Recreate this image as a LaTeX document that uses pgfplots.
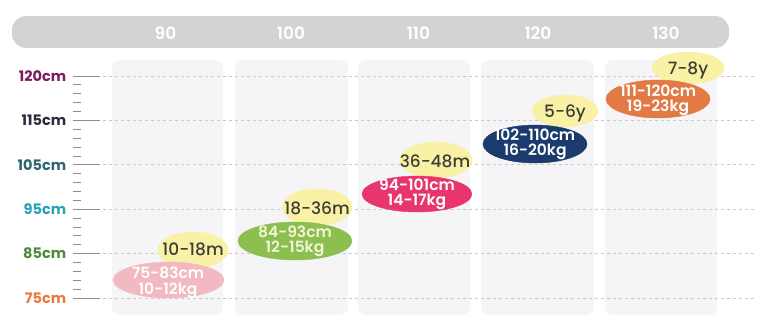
\documentclass[border=0pt]{standalone}
\usepackage{pgfplots}
\pgfplotsset{compat=1.18}
\usepackage{fontspec}
\setmainfont{Poppins}
\newfontfamily\pmed{Poppins Medium}
\newfontfamily\psemi{Poppins SemiBold}
\definecolor{barg}{HTML}{D3D3D6}
\definecolor{colg}{HTML}{F5F5F7}
\definecolor{gridg}{HTML}{C9C9CC}
\definecolor{tickg}{HTML}{8E8E92}
\definecolor{cyel}{HTML}{F8F1A6}
\definecolor{cpink}{HTML}{F2B9C1}
\definecolor{cgreen}{HTML}{8DBE50}
\definecolor{cmag}{HTML}{E8356E}
\definecolor{cnavy}{HTML}{1B3B6F}
\definecolor{corange}{HTML}{E27A45}
\definecolor{ytxt}{HTML}{3E3D33}
\definecolor{gtxt}{HTML}{F1F6D6}
\definecolor{l120}{HTML}{7B1D5C}
\definecolor{l115}{HTML}{2B2B3B}
\definecolor{l105}{HTML}{2F6470}
\definecolor{l95}{HTML}{27A3B5}
\definecolor{l85}{HTML}{4E8A3E}
\definecolor{l75}{HTML}{E97A3A}
\begin{document}
\begin{tikzpicture}
\begin{axis}[scale only axis, width=763pt, height=332pt,
  xmin=76.4777, xmax=138.2591, ymin=-0.7658, ymax=6.7117,
  axis lines=none, clip=false]
% top bar
\addplot[fill=barg, draw=none, no markers, rounded corners=14pt] coordinates {(77.45,5.631) (77.45,6.351) (135.51,6.351) (135.51,5.631)} -- cycle;
% column backgrounds
\addplot[fill=colg, draw=none, no markers, rounded corners=8pt] coordinates {(85.55,-0.383) (85.55,5.36) (94.53,5.36) (94.53,-0.383)} -- cycle;
\addplot[fill=colg, draw=none, no markers, rounded corners=8pt] coordinates {(95.51,-0.383) (95.51,5.36) (104.66,5.36) (104.66,-0.383)} -- cycle;
\addplot[fill=colg, draw=none, no markers, rounded corners=8pt] coordinates {(105.47,-0.383) (105.47,5.36) (114.53,5.36) (114.53,-0.383)} -- cycle;
\addplot[fill=colg, draw=none, no markers, rounded corners=8pt] coordinates {(115.43,-0.383) (115.43,5.36) (124.57,5.36) (124.57,-0.383)} -- cycle;
\addplot[fill=colg, draw=none, no markers, rounded corners=8pt] coordinates {(125.47,-0.383) (125.47,5.36) (134.53,5.36) (134.53,-0.383)} -- cycle;
% grid lines and ticks
\foreach \k in {0,...,5}{
  \edef\tmp{\noexpand\draw[gridg, line width=0.9pt, dash pattern=on 3pt off 3pt] (axis cs:84.82,\k) -- (axis cs:137.77,\k);
  \noexpand\draw[tickg, line width=0.9pt] (axis cs:82.39,\k) -- (axis cs:84.57,\k);}\tmp
}
\foreach \k in {0,...,4}{
  \foreach \j in {0.2,0.4,0.6,0.8}{
    \edef\tmp{\noexpand\draw[tickg, line width=0.8pt] (axis cs:82.39,\k+\j) -- (axis cs:83.04,\k+\j);}\tmp
  }
}
% top numbers
\node[text=white, font=\psemi\fontsize{17}{18}\selectfont] at (axis cs:89.88,5.968) {90};
\node[text=white, font=\psemi\fontsize{17}{18}\selectfont] at (axis cs:100.04,5.968) {100};
\node[text=white, font=\psemi\fontsize{17}{18}\selectfont] at (axis cs:110.36,5.968) {110};
\node[text=white, font=\psemi\fontsize{17}{18}\selectfont] at (axis cs:120.04,5.968) {120};
\node[text=white, font=\psemi\fontsize{17}{18}\selectfont] at (axis cs:130.40,5.968) {130};
% y labels
\node[anchor=east, text=l120, font=\bfseries\fontsize{14.5}{16}\selectfont, inner sep=0pt] at (axis cs:81.85,5) {120cm};
\node[anchor=east, text=l115, font=\bfseries\fontsize{14.5}{16}\selectfont, inner sep=0pt] at (axis cs:81.85,4) {115cm};
\node[anchor=east, text=l105, font=\bfseries\fontsize{14.5}{16}\selectfont, inner sep=0pt] at (axis cs:81.85,3) {105cm};
\node[anchor=east, text=l95, font=\bfseries\fontsize{14.5}{16}\selectfont, inner sep=0pt] at (axis cs:81.85,2) {95cm};
\node[anchor=east, text=l85, font=\bfseries\fontsize{14.5}{16}\selectfont, inner sep=0pt] at (axis cs:81.85,1) {85cm};
\node[anchor=east, text=l75, font=\bfseries\fontsize{14.5}{16}\selectfont, inner sep=0pt] at (axis cs:81.85,0) {75cm};
% yellow age tags
\addplot[only marks, mark=*, color=cyel, mark size=18pt, mark options={xscale=1.95}] coordinates {(92.11,1.081)};
\addplot[only marks, mark=*, color=cyel, mark size=18pt, mark options={xscale=1.95}] coordinates {(102.15,2.05)};
\addplot[only marks, mark=*, color=cyel, mark size=18pt, mark options={xscale=2.0}] coordinates {(111.78,3.108)};
\addplot[only marks, mark=*, color=cyel, mark size=16pt, mark options={xscale=2.06}] coordinates {(122.23,4.212)};
\addplot[only marks, mark=*, color=cyel, mark size=16pt, mark options={xscale=2.25}] coordinates {(132.19,5.18)};
% size blobs
\addplot[only marks, mark=*, color=cpink, mark size=18pt, mark options={xscale=3.08}] coordinates {(90.12,0.405)};
\addplot[only marks, mark=*, color=cgreen, mark size=19pt, mark options={xscale=3.0}] coordinates {(100.36,1.284)};
\addplot[only marks, mark=*, color=cmag, mark size=18pt, mark options={xscale=3.05}] coordinates {(110.24,2.342)};
\addplot[only marks, mark=*, color=cnavy, mark size=19pt, mark options={xscale=2.74}] coordinates {(119.80,3.468)};
\addplot[only marks, mark=*, color=corange, mark size=19pt, mark options={xscale=2.74}] coordinates {(129.76,4.482)};
% text anchors
\coordinate (t1) at (axis cs:92.11,1.104);
\coordinate (t2) at (axis cs:102.15,2.027);
\coordinate (t3) at (axis cs:111.70,3.086);
\coordinate (t4) at (axis cs:122.23,4.167);
\coordinate (t5) at (axis cs:132.19,5.135);
\coordinate (b1) at (axis cs:90.08,0.338);
\coordinate (b2) at (axis cs:100.36,1.273);
\coordinate (b3) at (axis cs:110.24,2.331);
\coordinate (b4) at (axis cs:119.80,3.457);
\coordinate (b5) at (axis cs:129.76,4.448);
\end{axis}
\tikzset{tag/.style={text=ytxt, font=\pmed\fontsize{17}{18}\selectfont, inner sep=0pt},
  blob/.style={align=center, font=\psemi\fontsize{15.5}{15.5}\selectfont, inner sep=0pt}}
\node[tag] at (t1) {10-18m};
\node[tag] at (t2) {18-36m};
\node[tag] at (t3) {36-48m};
\node[tag] at (t4) {5-6y};
\node[tag] at (t5) {7-8y};
\node[blob, text=white] at (b1) {75-83cm\\10-12kg};
\node[blob, text=gtxt] at (b2) {84-93cm\\12-15kg};
\node[blob, text=white] at (b3) {94-101cm\\14-17kg};
\node[blob, text=white] at (b4) {102-110cm\\16-20kg};
\node[blob, text=white] at (b5) {111-120cm\\19-23kg};
\pgfresetboundingbox
\path[use as bounding box] (current axis.south west) rectangle (current axis.north east);
\end{tikzpicture}
\end{document}
